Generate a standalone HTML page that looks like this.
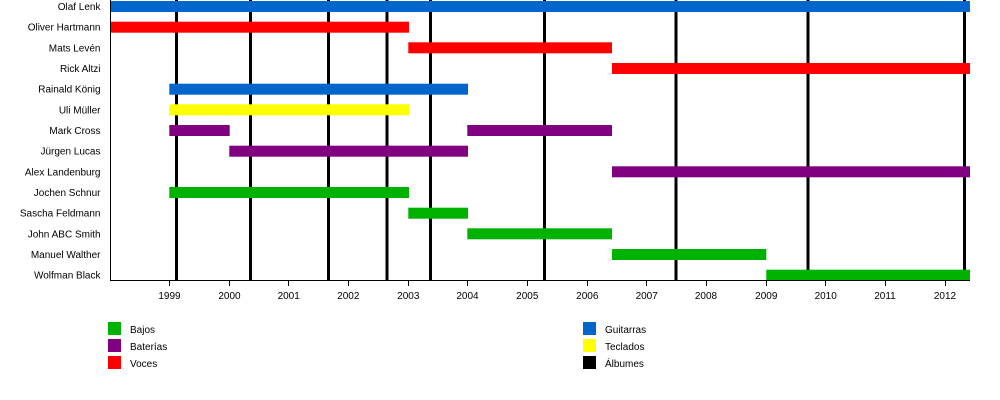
<!DOCTYPE html>
<html><head><meta charset="utf-8"><style>
html,body{margin:0;padding:0;background:#fff;}
svg{display:block;}
text{font-family:"Liberation Sans",sans-serif;font-size:10px;fill:#000;}
</style></head><body>
<svg width="1000" height="400" viewBox="0 0 1000 400" xmlns="http://www.w3.org/2000/svg">
<rect width="1000" height="400" fill="#fff"/>
<!-- album lines -->
<g fill="#000">
<rect x="175" y="0" width="3" height="280"/>
<rect x="249" y="0" width="3" height="280"/>
<rect x="327" y="0" width="3" height="280"/>
<rect x="385.5" y="0" width="3" height="280"/>
<rect x="429" y="0" width="3" height="280"/>
<rect x="543" y="0" width="3" height="280"/>
<rect x="674.5" y="0" width="3" height="280"/>
<rect x="806.5" y="0" width="3" height="280"/>
<rect x="963" y="0" width="3" height="280"/>
</g>
<!-- bars -->
<g>
<rect x="111" y="1" width="859" height="11" fill="#0066CC"/>
<rect x="111" y="21.7" width="298" height="11" fill="#FF0000"/>
<rect x="408.3" y="42.3" width="203.7" height="11" fill="#FF0000"/>
<rect x="612" y="63" width="358" height="11" fill="#FF0000"/>
<rect x="169.3" y="83.7" width="298.7" height="11" fill="#0066CC"/>
<rect x="169.3" y="104.3" width="239.7" height="11" fill="#FFFF00"/>
<rect x="169.3" y="125" width="60.4" height="11" fill="#800080"/>
<rect x="467.3" y="125" width="144.7" height="11" fill="#800080"/>
<rect x="229.3" y="145.7" width="238.7" height="11" fill="#800080"/>
<rect x="612" y="166.3" width="358" height="11" fill="#800080"/>
<rect x="169.3" y="187" width="239.7" height="11" fill="#00B200"/>
<rect x="408.3" y="207.7" width="59.7" height="11" fill="#00B200"/>
<rect x="467.3" y="228.3" width="144.7" height="11" fill="#00B200"/>
<rect x="612" y="249" width="154.3" height="11" fill="#00B200"/>
<rect x="766.3" y="269.7" width="203.7" height="11" fill="#00B200"/>
</g>
<!-- axes -->
<line x1="110.5" y1="0" x2="110.5" y2="280.5" stroke="#000" stroke-width="1"/>
<line x1="110" y1="280.5" x2="970" y2="280.5" stroke="#000" stroke-width="1"/>
<g stroke="#000" stroke-width="1">
<line x1="169.5" y1="280" x2="169.5" y2="286"/>
<line x1="229.5" y1="280" x2="229.5" y2="286"/>
<line x1="288.5" y1="280" x2="288.5" y2="286"/>
<line x1="348.5" y1="280" x2="348.5" y2="286"/>
<line x1="408.5" y1="280" x2="408.5" y2="286"/>
<line x1="467.5" y1="280" x2="467.5" y2="286"/>
<line x1="527.5" y1="280" x2="527.5" y2="286"/>
<line x1="587.5" y1="280" x2="587.5" y2="286"/>
<line x1="646.5" y1="280" x2="646.5" y2="286"/>
<line x1="706.5" y1="280" x2="706.5" y2="286"/>
<line x1="766.5" y1="280" x2="766.5" y2="286"/>
<line x1="825.5" y1="280" x2="825.5" y2="286"/>
<line x1="885.5" y1="280" x2="885.5" y2="286"/>
<line x1="945.5" y1="280" x2="945.5" y2="286"/>
</g>
<g text-anchor="middle">
<text x="169.5" y="299">1999</text>
<text x="229.5" y="299">2000</text>
<text x="288.7" y="299">2001</text>
<text x="348.3" y="299">2002</text>
<text x="408.3" y="299">2003</text>
<text x="467.5" y="299">2004</text>
<text x="527.3" y="299">2005</text>
<text x="587.3" y="299">2006</text>
<text x="646.7" y="299">2007</text>
<text x="706" y="299">2008</text>
<text x="766.3" y="299">2009</text>
<text x="825.7" y="299">2010</text>
<text x="885" y="299">2011</text>
<text x="945" y="299">2012</text>
</g>
<!-- names -->
<g text-anchor="end">
<text x="100.5" y="10">Olaf Lenk</text>
<text x="100.5" y="30.7">Oliver Hartmann</text>
<text x="100.5" y="51.3">Mats Levén</text>
<text x="100.5" y="72">Rick Altzi</text>
<text x="100.5" y="92.7">Rainald König</text>
<text x="100.5" y="113.3">Uli Müller</text>
<text x="100.5" y="134">Mark Cross</text>
<text x="100.5" y="154.7">Jürgen Lucas</text>
<text x="100.5" y="175.3">Alex Landenburg</text>
<text x="100.5" y="196">Jochen Schnur</text>
<text x="100.5" y="216.7">Sascha Feldmann</text>
<text x="100.5" y="237.3">John ABC Smith</text>
<text x="100.5" y="258">Manuel Walther</text>
<text x="100.5" y="278.7">Wolfman Black</text>
</g>
<!-- legend -->
<rect x="108" y="322" width="13" height="13" fill="#00B200"/>
<rect x="108" y="339" width="13" height="13" fill="#800080"/>
<rect x="108" y="356" width="13" height="13" fill="#FF0000"/>
<text x="130" y="333">Bajos</text>
<text x="130" y="350">Baterías</text>
<text x="130" y="367">Voces</text>
<rect x="583" y="322" width="13" height="13" fill="#0066CC"/>
<rect x="583" y="339" width="13" height="13" fill="#FFFF00"/>
<rect x="583" y="356" width="13" height="13" fill="#000000"/>
<text x="605" y="333">Guitarras</text>
<text x="605" y="350">Teclados</text>
<text x="605" y="367">Álbumes</text>
</svg>
</body></html>
